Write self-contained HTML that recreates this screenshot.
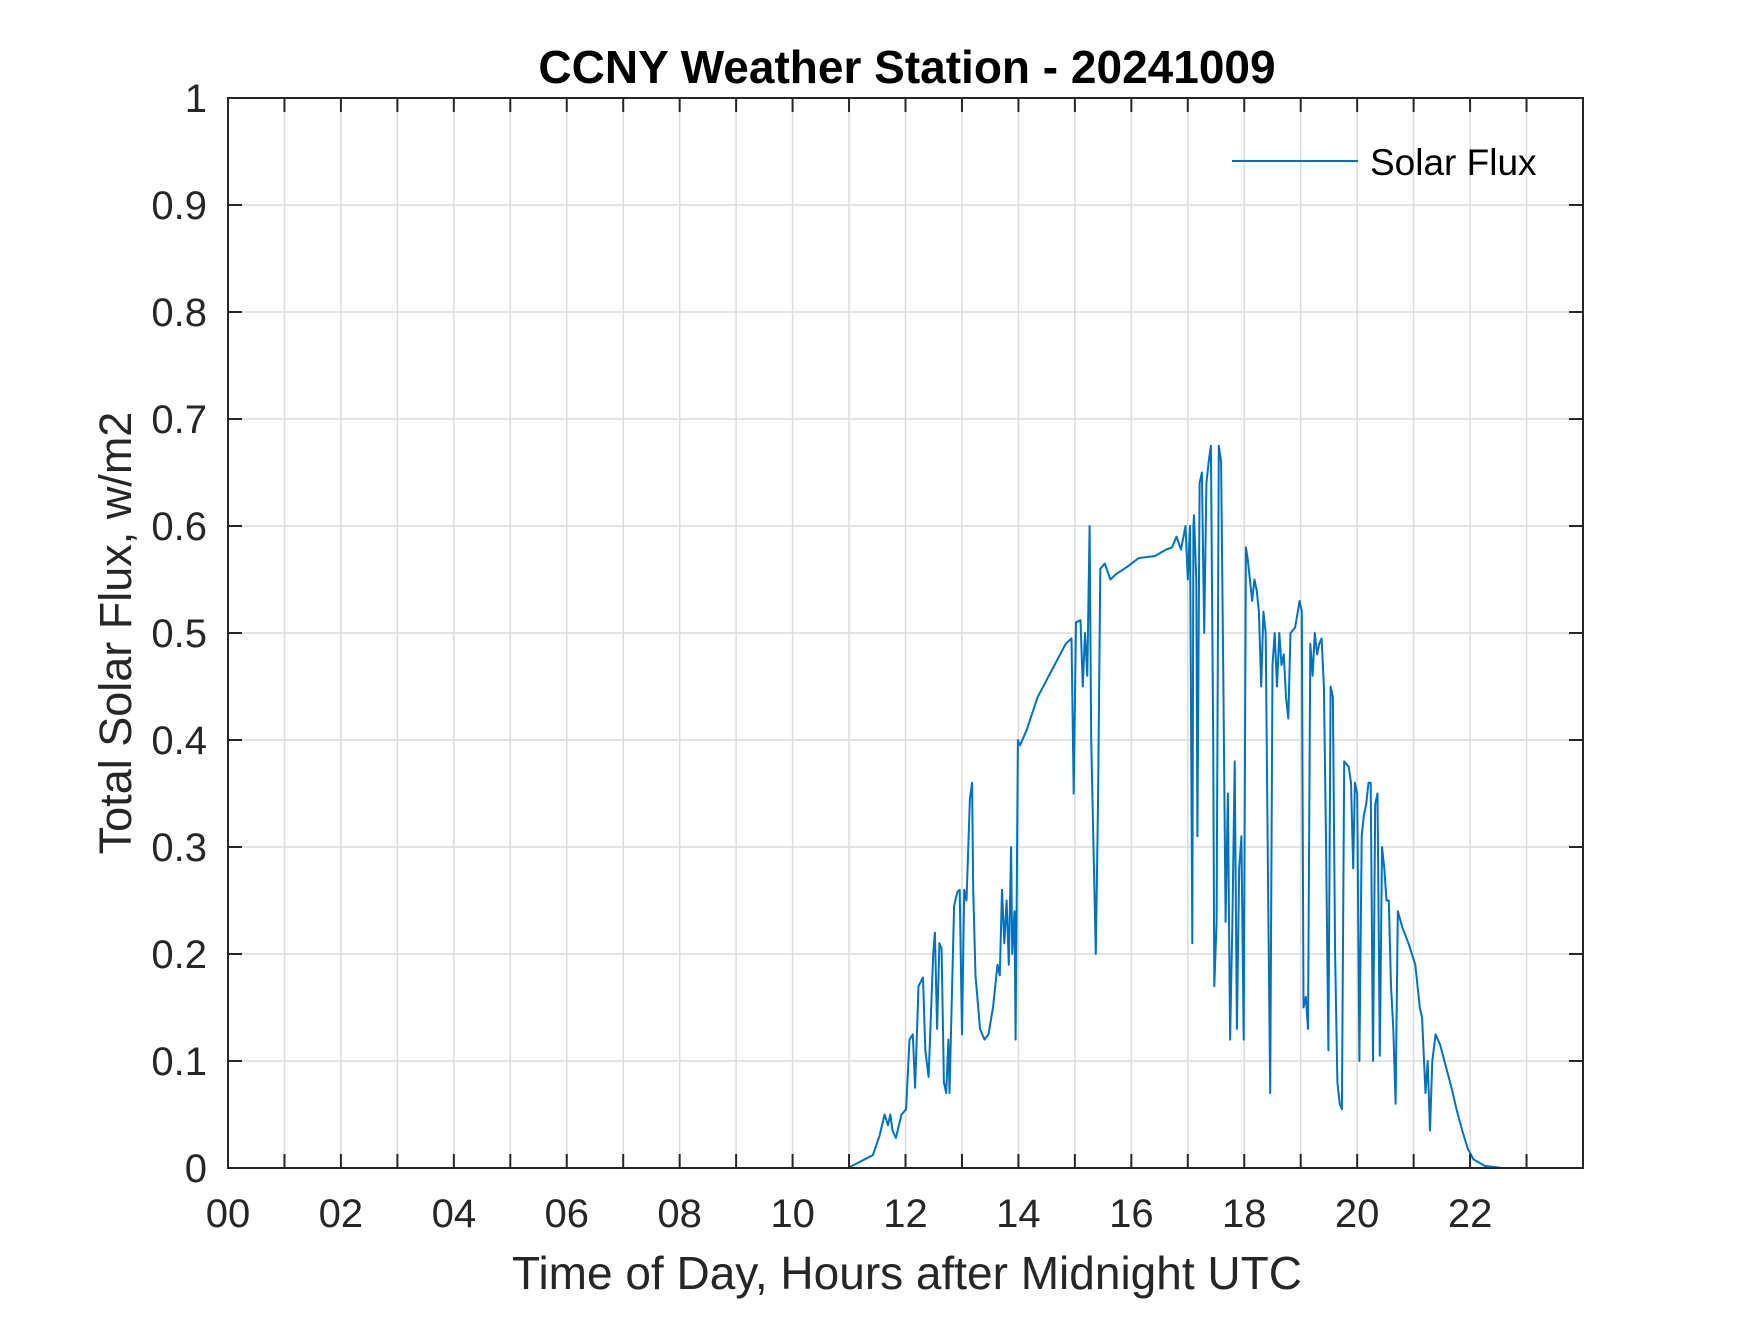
<!DOCTYPE html>
<html><head><meta charset="utf-8"><style>
html,body{margin:0;padding:0;background:#fff;}
svg text{font-family:"Liberation Sans",Arial,sans-serif;fill:#262626;}
</style></head><body>
<svg id="chart" width="1750" height="1313" viewBox="0 0 1750 1313" xmlns="http://www.w3.org/2000/svg">
<rect x="0" y="0" width="1750" height="1313" fill="#fff"/>
<g id="grid"></g>
<g id="series"></g>
<g id="axes"></g>
<text x="907" y="83" text-anchor="middle" font-size="46" font-weight="bold" style="fill:#000">CCNY Weather Station - 20241009</text>
<text x="907" y="1289" text-anchor="middle" font-size="46">Time of Day, Hours after Midnight UTC</text>
<text transform="translate(131,633) rotate(-90)" text-anchor="middle" font-size="45">Total Solar Flux, w/m2</text>
<g>
<line x1="1232" y1="161" x2="1358" y2="161" stroke="#0072BD" stroke-width="2"/>
<text x="1370" y="175" font-size="37" style="fill:#000">Solar Flux</text>
</g>
</svg>
<script>
const hours = [0,10.98,11.42,11.54,11.63,11.69,11.73,11.77,11.83,11.93,12.01,12.07,12.13,12.17,12.23,12.31,12.35,12.41,12.49,12.52,12.56,12.60,12.64,12.68,12.72,12.76,12.78,12.86,12.92,12.96,13.00,13.04,13.08,13.14,13.18,13.20,13.24,13.32,13.40,13.47,13.55,13.63,13.67,13.71,13.75,13.79,13.83,13.87,13.89,13.93,13.95,13.99,14.03,14.15,14.34,14.64,14.84,14.94,14.98,15.02,15.10,15.14,15.18,15.22,15.26,15.29,15.33,15.37,15.41,15.45,15.53,15.63,15.73,15.93,16.13,16.42,16.62,16.72,16.80,16.88,16.96,17.00,17.04,17.08,17.10,17.11,17.15,17.17,17.21,17.25,17.29,17.33,17.37,17.41,17.45,17.47,17.51,17.55,17.59,17.63,17.67,17.71,17.75,17.79,17.83,17.87,17.91,17.95,17.99,18.03,18.06,18.10,18.14,18.18,18.22,18.26,18.30,18.34,18.38,18.42,18.46,18.50,18.54,18.58,18.62,18.66,18.70,18.74,18.78,18.82,18.90,18.98,19.02,19.05,19.09,19.13,19.17,19.21,19.25,19.29,19.33,19.37,19.41,19.45,19.49,19.53,19.57,19.61,19.65,19.69,19.73,19.77,19.85,19.89,19.93,19.96,20.00,20.04,20.08,20.12,20.16,20.20,20.24,20.28,20.32,20.36,20.40,20.44,20.48,20.52,20.56,20.60,20.64,20.68,20.72,20.80,20.91,21.03,21.11,21.15,21.21,21.25,21.29,21.33,21.39,21.47,21.57,21.67,21.76,21.86,21.96,22.06,22.26,22.56,24];
const flux = [0,0,0.012,0.03,0.05,0.04,0.05,0.035,0.028,0.05,0.055,0.12,0.125,0.075,0.17,0.178,0.11,0.085,0.2,0.22,0.13,0.21,0.205,0.08,0.07,0.12,0.07,0.245,0.258,0.26,0.125,0.26,0.25,0.345,0.36,0.26,0.18,0.13,0.12,0.125,0.15,0.19,0.18,0.26,0.21,0.25,0.19,0.3,0.2,0.24,0.12,0.4,0.395,0.41,0.44,0.47,0.49,0.495,0.35,0.51,0.512,0.45,0.5,0.46,0.6,0.4,0.3,0.2,0.34,0.56,0.565,0.55,0.555,0.562,0.57,0.572,0.578,0.58,0.59,0.578,0.6,0.55,0.6,0.21,0.6,0.61,0.55,0.31,0.64,0.65,0.5,0.64,0.66,0.675,0.4,0.17,0.23,0.675,0.66,0.45,0.23,0.35,0.12,0.23,0.38,0.13,0.28,0.31,0.12,0.58,0.57,0.55,0.53,0.55,0.54,0.52,0.45,0.52,0.5,0.27,0.07,0.47,0.5,0.45,0.5,0.47,0.48,0.44,0.42,0.5,0.505,0.53,0.52,0.15,0.16,0.13,0.49,0.46,0.5,0.48,0.49,0.495,0.45,0.3,0.11,0.45,0.44,0.2,0.08,0.06,0.055,0.38,0.375,0.36,0.28,0.36,0.35,0.1,0.31,0.33,0.34,0.36,0.36,0.1,0.34,0.35,0.105,0.3,0.28,0.25,0.25,0.17,0.13,0.06,0.24,0.225,0.21,0.19,0.15,0.14,0.07,0.1,0.035,0.1,0.125,0.115,0.095,0.075,0.055,0.035,0.018,0.008,0.002,0,0];
const xTickLabels = ["00","02","04","06","08","10","12","14","16","18","20","22"];
const yTickLabels = ["0","0.1","0.2","0.3","0.4","0.5","0.6","0.7","0.8","0.9","1"];

const L=228,T=98,W=1355,H=1070,XMAX=24,YMAX=1;
const xs=h=>L+h/XMAX*W;
const ys=v=>T+H-v/YMAX*H;
const NS='http://www.w3.org/2000/svg';
const grid=document.getElementById('grid'),axes=document.getElementById('axes'),series=document.getElementById('series');
function mk(tag,attrs,parent){const e=document.createElementNS(NS,tag);for(const k in attrs)e.setAttribute(k,attrs[k]);parent.appendChild(e);return e;}
for(let h=1;h<XMAX;h++){
  const g=mk('line',{x1:xs(h),y1:T,x2:xs(h),y2:T+H,stroke:'#dcdcdc','stroke-width':1.5},grid);
  
  
  const t1=mk('line',{x1:xs(h),y1:T+H,x2:xs(h),y2:T+H-14,stroke:'#262626','stroke-width':2},axes);
  
  
  const t2=mk('line',{x1:xs(h),y1:T,x2:xs(h),y2:T+14,stroke:'#262626','stroke-width':2},axes);
  
  
}
xTickLabels.forEach((s,i)=>{
  const t=mk('text',{x:xs(i*2),y:1227,'text-anchor':'middle','font-size':40},axes);
  t.textContent=s;
  
  
});
yTickLabels.forEach((s,i)=>{
  const v=i/10;
  if(i>0&&i<10){
    const g=mk('line',{x1:L,y1:ys(v),x2:L+W,y2:ys(v),stroke:'#dcdcdc','stroke-width':1.5},grid);
    
    
    const t1=mk('line',{x1:L,y1:ys(v),x2:L+14,y2:ys(v),stroke:'#262626','stroke-width':2},axes);
    
    
    const t2=mk('line',{x1:L+W,y1:ys(v),x2:L+W-14,y2:ys(v),stroke:'#262626','stroke-width':2},axes);
    
    
  }
  const t=mk('text',{x:207,y:ys(v)+14,'text-anchor':'end','font-size':40},axes);
  t.textContent=s;
  
  
});
const frame=mk('rect',{x:L,y:T,width:W,height:H,fill:'none',stroke:'#262626','stroke-width':2},axes);


const pts=hours.map((h,i)=>xs(h).toFixed(1)+','+ys(flux[i]).toFixed(1)).join(' ');
const line=mk('polyline',{points:pts,fill:'none',stroke:'#0072BD','stroke-width':2,'stroke-linejoin':'round'},series);


</script>
</body></html>
